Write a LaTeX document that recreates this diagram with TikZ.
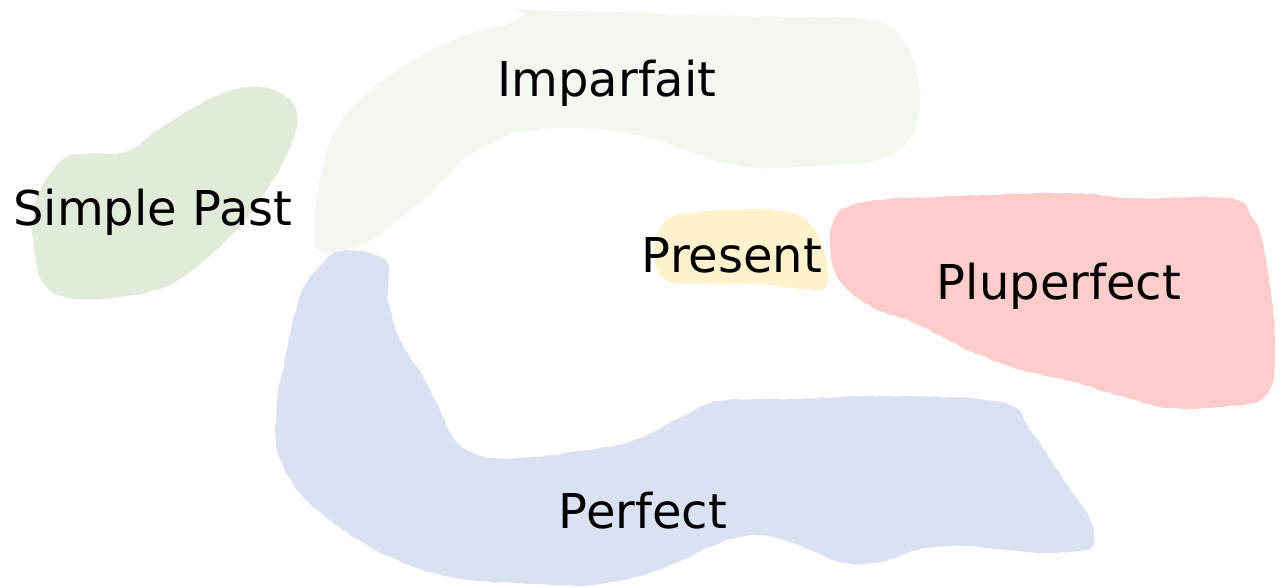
\documentclass[tikz,border=0pt]{standalone}
\usepackage{fontspec}
\setmainfont{DejaVu Sans}
\usetikzlibrary{decorations.pathmorphing}
\definecolor{spgreen}{HTML}{E1EBD9}
\definecolor{impgreen}{HTML}{F2F7F0}
\definecolor{presyellow}{HTML}{FFF2CC}
\definecolor{plured}{HTML}{FFCCCC}
\definecolor{perfblue}{HTML}{D9E1F2}
\begin{document}
\begin{tikzpicture}[x=0.75pt,y=-0.75pt,
  blob/.style={decorate,decoration={random steps,segment length=4pt,amplitude=0.5pt}},
  lbl/.style={anchor=base,inner sep=0pt,font=\fontsize{36}{40}\selectfont,text=black}]
\pgfmathsetseed{7}
\useasboundingbox (0,0) rectangle (1287,588);
% Perfect
\fill[perfblue,blob] plot[smooth cycle,tension=0.6] coordinates {
 (322,264) (342,250) (385,261) (388,300) (400,340) (422,375) (440,410) (455,440)
 (478,455) (520,458) (600,448) (640,438) (680,418) (720,401) (800,399) (880,396)
 (1000,402) (1030,430) (1052,462) (1072,492) (1088,515) (1094,540) (1082,550)
 (1040,553) (1000,549) (960,546) (920,549) (880,562) (845,563) (810,550) (770,536)
 (740,537) (710,547) (680,561) (640,576) (590,585) (540,584) (470,580) (420,569)
 (370,547) (330,520) (303,497) (284,468) (276,440) (278,395) (285,360) (293,320) (305,285)};
% Imparfait
\fill[impgreen,blob] plot[smooth cycle,tension=0.5] coordinates {
 (528,10) (660,14) (780,17) (860,18) (892,28) (910,52) (918,78) (920,105) (914,132)
 (898,150) (870,162) (820,166) (760,168) (720,162) (690,152) (650,138) (610,130)
 (560,128) (520,132) (490,143) (465,158) (445,178) (425,198) (400,218) (378,236)
 (352,248) (330,252) (316,246) (315,215) (320,178) (330,142) (346,115) (370,90)
 (405,65) (440,46) (475,32) (505,25) (519,18)};
% Simple Past
\fill[spgreen,blob] plot[smooth cycle,tension=0.6] coordinates {
 (240,88) (268,88) (290,100) (297,122) (288,152) (268,188) (240,226) (205,260)
 (165,287) (115,298) (70,298) (46,286) (36,262) (33,222) (41,188) (62,160) (85,154)
 (125,152) (152,134) (182,114) (214,97)};
% Present
\fill[presyellow,blob] plot[smooth cycle,tension=0.6] coordinates {
 (668,220) (700,212) (735,210) (765,209) (795,214) (813,228) (824,252) (828,277)
 (820,289) (790,288) (760,284) (715,284) (675,283) (658,270) (655,245)};
% Pluperfect
\fill[plured,blob] plot[smooth cycle,tension=0.6] coordinates {
 (842,210) (880,200) (960,196) (1070,193) (1130,198) (1228,198) (1250,214) (1262,240)
 (1268,272) (1273,310) (1275,350) (1272,384) (1258,401) (1228,406) (1170,408)
 (1120,396) (1070,381) (1020,370) (980,355) (948,340) (910,321) (878,310) (853,294)
 (838,278) (831,256) (831,230)};
% labels
\node[lbl] (imp) at (607,97) {Imparfait};
\node[lbl] (sp) at (153,225) {Simple Past};
\node[lbl] (pres) at (732,272) {Present};
\node[lbl] (plu) at (1059,299) {Pluperfect};
\node[lbl] (perf) at (643,528) {Perfect};
\end{tikzpicture}
\end{document}
